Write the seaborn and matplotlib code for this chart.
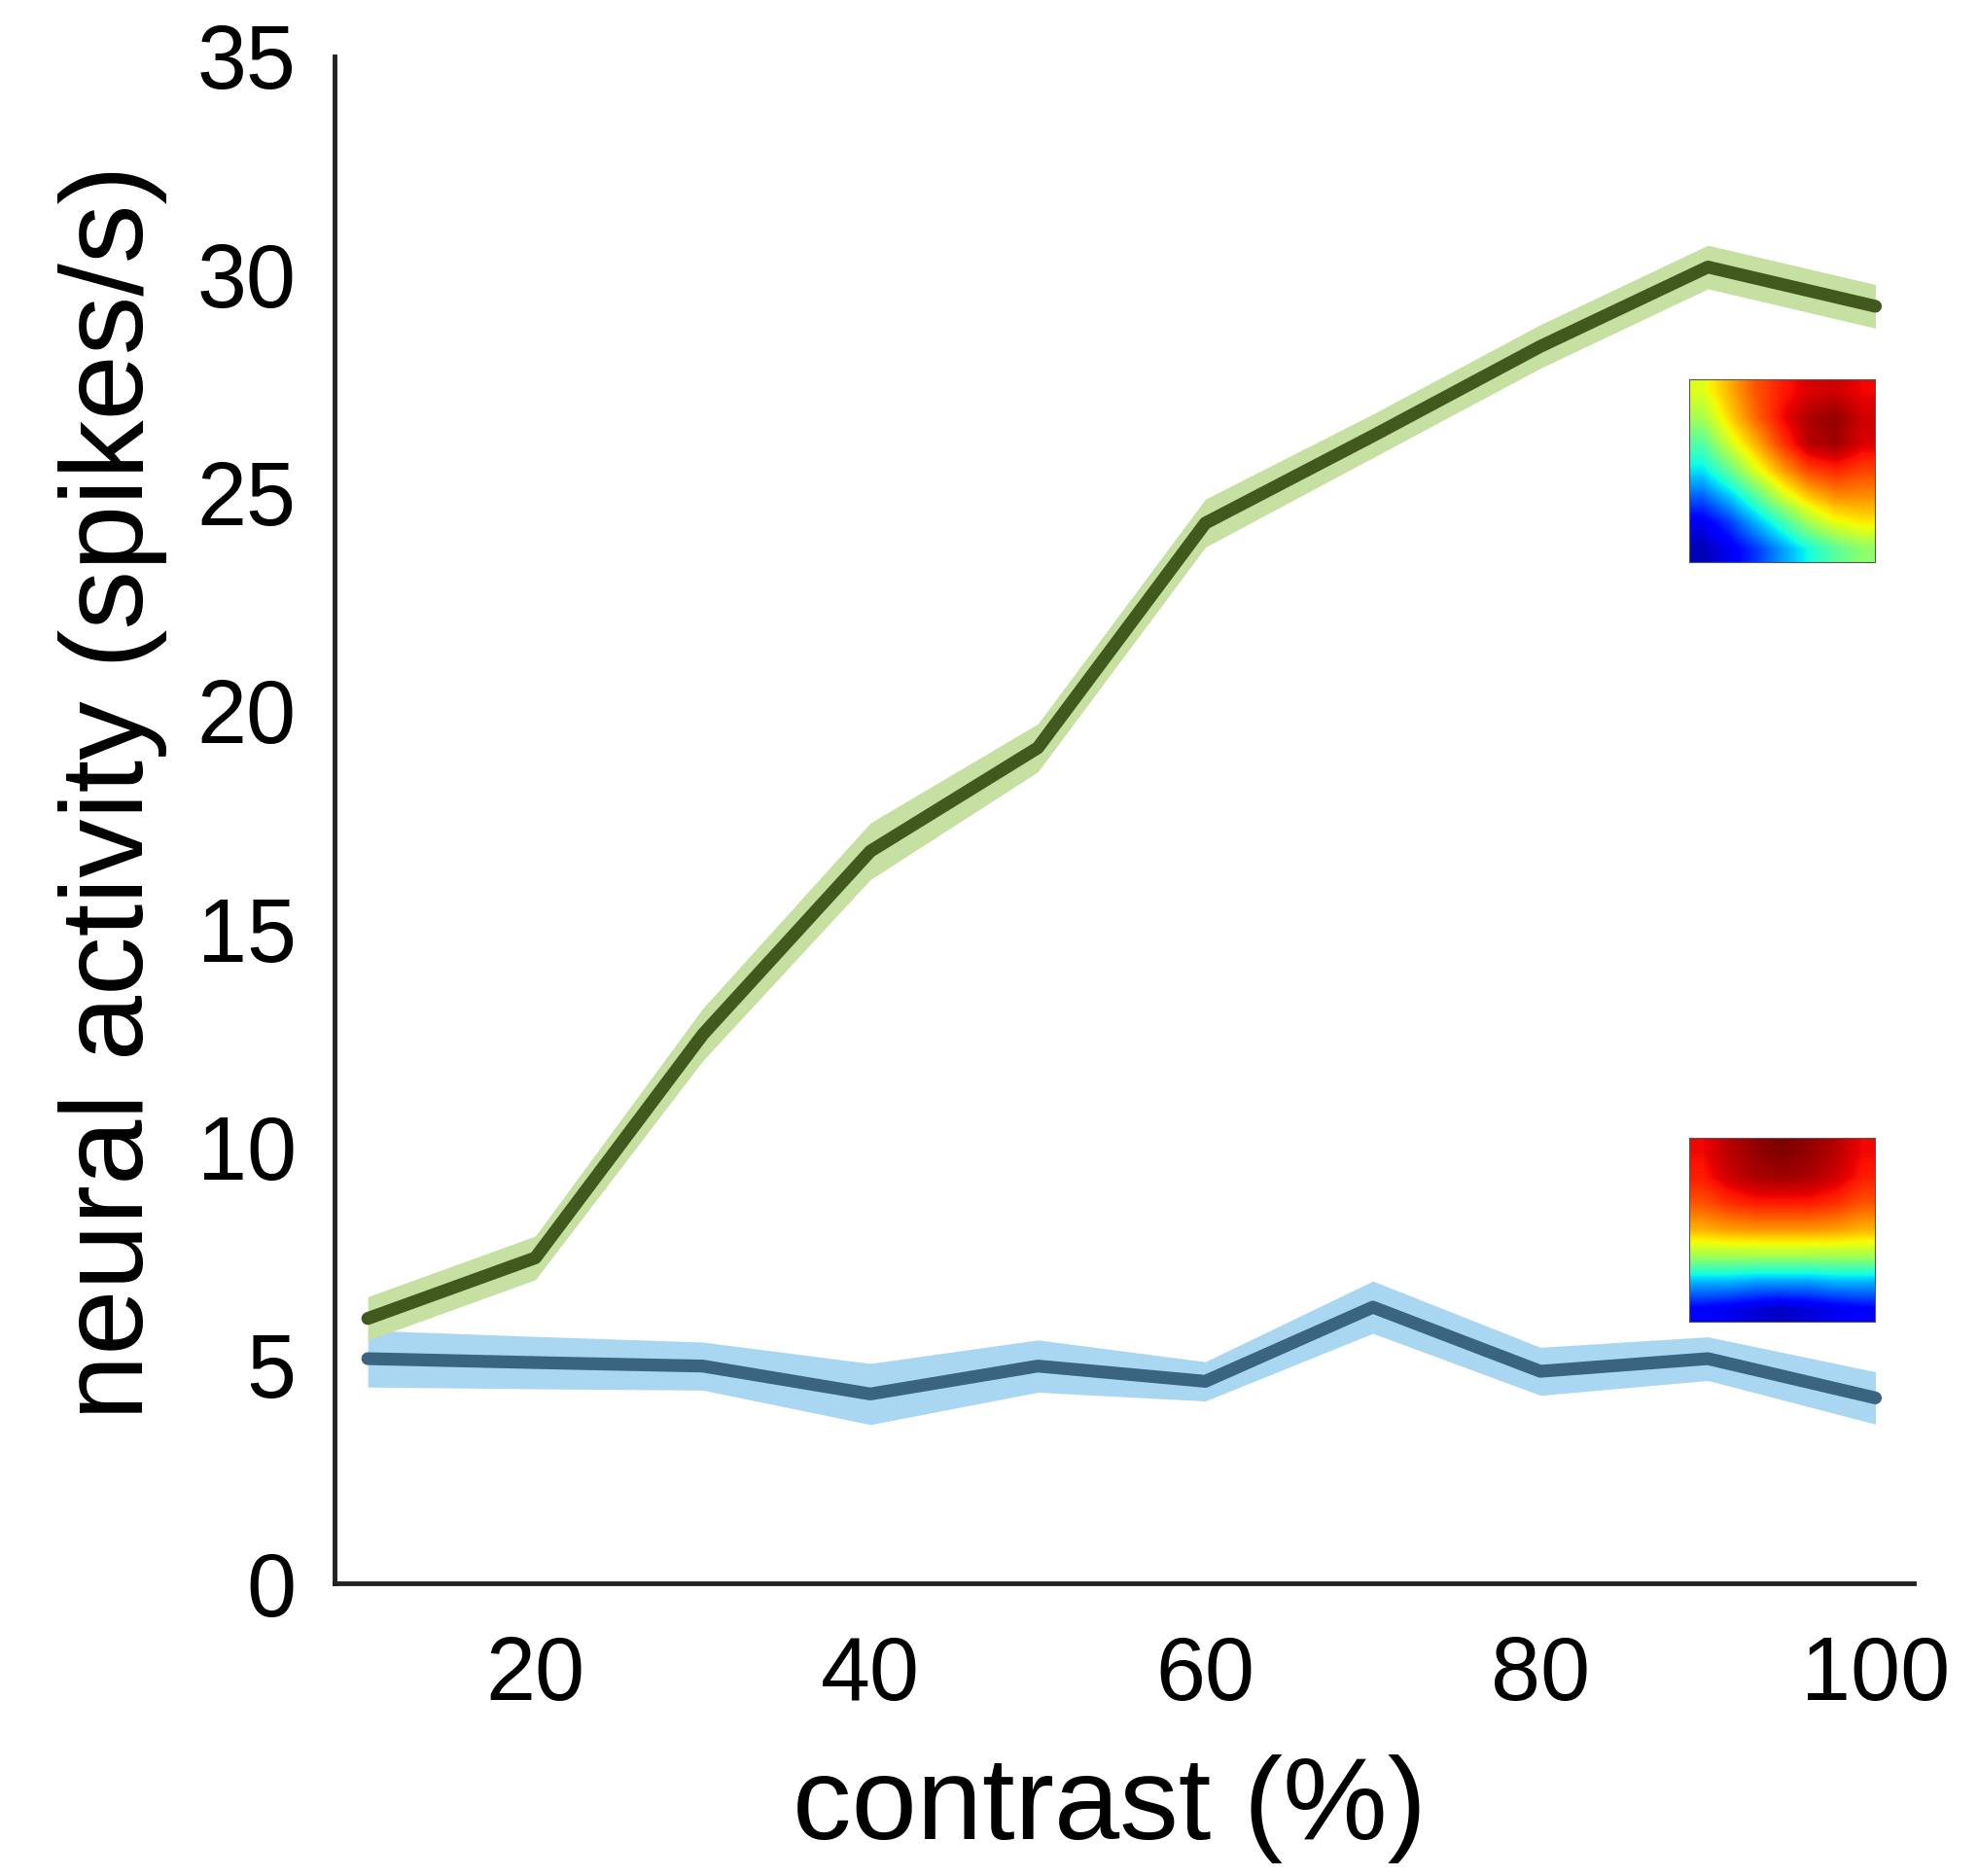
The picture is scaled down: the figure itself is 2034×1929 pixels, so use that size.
import numpy as np
import matplotlib
matplotlib.use("Agg")
import matplotlib.pyplot as plt
import seaborn as sns

sns.set_style('white')
plt.rcParams['font.family'] = ['Liberation Sans', 'DejaVu Sans']

# contrast levels (%)
contrast = [10, 20, 30, 40, 50, 60, 70, 80, 90, 100]

# green curve (preferred stimulus) mean and sem
green_mean = [6.07, 7.46, 12.58, 16.78, 19.15, 24.3, 26.3, 28.35, 30.17, 29.27]
green_sem = [0.5, 0.5, 0.6, 0.65, 0.55, 0.55, 0.5, 0.5, 0.5, 0.5]

# blue curve (non-preferred stimulus) mean and sem
blue_mean = [5.15, 5.06, 4.98, 4.34, 4.98, 4.63, 6.33, 4.86, 5.15, 4.25]
blue_sem = [0.65, 0.6, 0.55, 0.7, 0.6, 0.45, 0.6, 0.55, 0.5, 0.6]

y_ticks = [0, 5, 10, 15, 20, 25, 30, 35]
x_ticks = [20, 40, 60, 80, 100]

# small maps for the two insets (jet scale, 0..1), read row by row
map_top = [
    [0.62, 0.72, 0.82, 0.88, 0.92, 0.93, 0.90],
    [0.55, 0.68, 0.80, 0.90, 0.96, 0.98, 0.93],
    [0.45, 0.60, 0.72, 0.85, 0.95, 0.97, 0.92],
    [0.35, 0.47, 0.62, 0.74, 0.84, 0.87, 0.84],
    [0.22, 0.32, 0.45, 0.60, 0.70, 0.76, 0.76],
    [0.10, 0.18, 0.30, 0.42, 0.55, 0.63, 0.66],
    [0.05, 0.10, 0.18, 0.28, 0.38, 0.46, 0.52],
]
map_bottom = [
    [0.90, 0.95, 0.98, 1.00, 0.98, 0.95, 0.90],
    [0.88, 0.93, 0.96, 0.97, 0.96, 0.93, 0.88],
    [0.82, 0.86, 0.88, 0.88, 0.88, 0.86, 0.82],
    [0.72, 0.74, 0.75, 0.75, 0.75, 0.74, 0.72],
    [0.55, 0.55, 0.55, 0.55, 0.55, 0.55, 0.55],
    [0.30, 0.30, 0.28, 0.28, 0.28, 0.30, 0.30],
    [0.12, 0.10, 0.08, 0.06, 0.08, 0.10, 0.12],
]

green_line, green_band = '#3f5a1c', '#c6e0a2'
blue_line, blue_band = '#3a6481', '#a9d6f1'

fig = plt.figure(figsize=(20.34, 19.29), dpi=100)
ax = fig.add_axes([0.169, 0.156, 0.7986, 0.814])

g_lo = np.array(green_mean) - np.array(green_sem)
g_hi = np.array(green_mean) + np.array(green_sem)
b_lo = np.array(blue_mean) - np.array(blue_sem)
b_hi = np.array(blue_mean) + np.array(blue_sem)

ax.fill_between(contrast, b_lo, b_hi, color=blue_band, lw=0, zorder=1)
ax.fill_between(contrast, g_lo, g_hi, color=green_band, lw=0, zorder=1)
sns.lineplot(x=contrast, y=blue_mean, color=blue_line, lw=9.5, ax=ax, zorder=2)
sns.lineplot(x=contrast, y=green_mean, color=green_line, lw=9.5, ax=ax, zorder=3)

ax.set_xlim(8, 102.3)
ax.set_ylim(0, 35)
ax.set_xticks(x_ticks)
ax.set_yticks(y_ticks)
ax.tick_params(axis='x', direction='in', length=19, width=2.5, pad=38,
               labelsize=66, colors='#222222', labelcolor='black')
ax.tick_params(axis='y', direction='in', length=8, width=2.5, pad=28,
               labelsize=66, colors='#222222', labelcolor='black')

for s in ['top', 'right']:
    ax.spines[s].set_visible(False)
for s in ['left', 'bottom']:
    ax.spines[s].set_linewidth(3.5)
    ax.spines[s].set_color('#222222')

ax.set_xlabel('contrast (%)', fontsize=87, color='black', va='center')
ax.set_ylabel('neural activity (spikes/s)', fontsize=87, color='black', va='center')
ax.xaxis.set_label_coords(0.491, -0.148)
ax.yaxis.set_label_coords(-0.14, 0.518)

# insets with the two response maps
for grid, y0 in [(map_top, 23.4), (map_bottom, 6.0)]:
    ins = ax.inset_axes([88.9, y0, 11.1, 4.2], transform=ax.transData)
    ins.imshow(np.array(grid), cmap='jet', vmin=0, vmax=1,
               interpolation='bilinear', aspect='auto')
    ins.set_xticks([])
    ins.set_yticks([])
    for s in ins.spines.values():
        s.set_linewidth(0.8)
        s.set_color('#555555')

fig.savefig('out.png', dpi=100, facecolor='white')
